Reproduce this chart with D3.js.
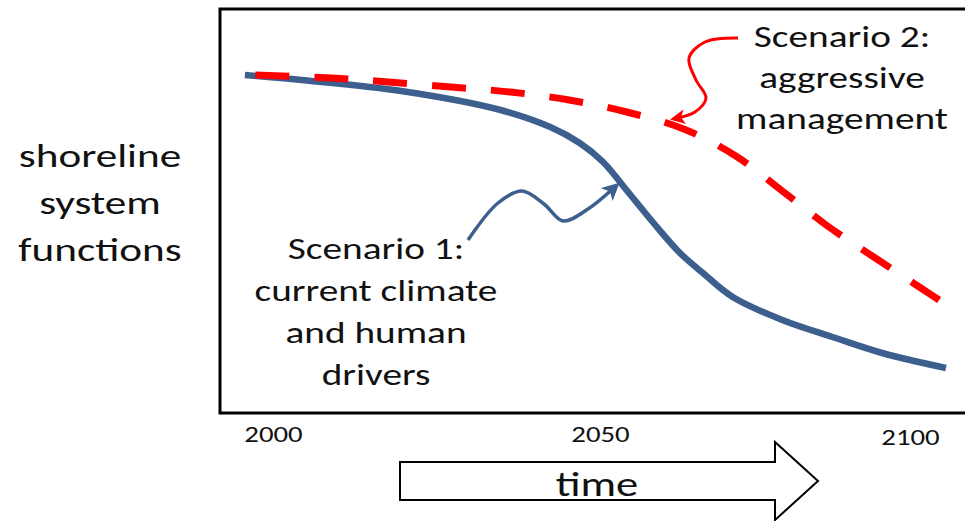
<!DOCTYPE html>
<html>
<head>
<meta charset="utf-8">
<script src="https://cdn.jsdelivr.net/npm/d3@7"></script>
<style>
  body { margin: 0; background: #fff; }
  text { font-family: Carlito, Calibri, Lato, sans-serif; fill: #111; }
</style>
</head>
<body>
<svg></svg>
<script>
//DATA (y is a unitless "function" level 0-100)
var scenario1Years  = [1995.7, 2004.4, 2019.6, 2034.8, 2042.4, 2046.9, 2050.5, 2054.0, 2058.5, 2062.9, 2066.6, 2071.4, 2079.4, 2087.5, 2095.5, 2105.8];
var scenario1Values = [83.75, 82.5, 79.75, 75, 70.75, 66.75, 62, 55.5, 47, 39.25, 34.25, 28.25, 22.5, 18.25, 14.25, 10.5];

var scenario2Years  = [1997.3, 2009.0, 2017.6, 2027.2, 2036.3, 2045.3, 2054.3, 2063.5, 2071.9, 2079.4, 2086.7, 2094.4, 2104.7];
var scenario2Values = [83.75, 83, 82, 80.75, 79.5, 77.5, 74.5, 70.25, 63.5, 54.75, 46, 38, 27.5];

var tickYears = [2000, 2050, 2100];
var yLabelLines = ["shoreline", "system", "functions"];
var label1Lines = ["Scenario 1:", "current climate", "and human", "drivers"];
var label2Lines = ["Scenario 2:", "aggressive", "management"];

//SET UP THE CANVAS
var w = 965;
var h = 521;
var stretch = "scale(1.31,1)"; // the original lettering is a wide sans

var svg = d3.select("svg")
     .attr("width", w)
     .attr("height", h)
     .style("background-color", "white");

//scales (the year labels are not evenly spaced in the original, so piecewise)
var xScale = d3.scaleLinear()
     .domain([2000, 2050, 2100])
     .range([273, 600, 910]);
var yScale = d3.scaleLinear()
     .domain([0, 100])
     .range([410, 10]);

//frame (right side runs off the page)
svg.append("rect")
     .attr("x", 220)
     .attr("y", 9)
     .attr("width", 780)
     .attr("height", 404)
     .attr("fill", "none")
     .attr("stroke", "black")
     .attr("stroke-width", 3);

//arrow heads
var defs = svg.append("defs");
defs.append("marker")
     .attr("id", "headBlue")
     .attr("viewBox", "0 0 10 10")
     .attr("refX", 8).attr("refY", 5)
     .attr("markerWidth", 5).attr("markerHeight", 5)
     .attr("markerUnits", "strokeWidth")
     .attr("orient", "auto")
     .append("path")
     .attr("d", "M0,0 L10,5 L0,10 L2.5,5 Z")
     .attr("fill", "#3c5f8e");
defs.append("marker")
     .attr("id", "headRed")
     .attr("viewBox", "0 0 10 10")
     .attr("refX", 8).attr("refY", 5)
     .attr("markerWidth", 5).attr("markerHeight", 5)
     .attr("markerUnits", "strokeWidth")
     .attr("orient", "auto")
     .append("path")
     .attr("d", "M0,0 L10,5 L0,10 L2.5,5 Z")
     .attr("fill", "red");

////DRAW THE LINES
var lineMaker = d3.line()
     .curve(d3.curveCatmullRom.alpha(0.5))
     .x(function (d) { return xScale(d[0]); })
     .y(function (d) { return yScale(d[1]); });

var scenario1 = d3.zip(scenario1Years, scenario1Values);
var scenario2 = d3.zip(scenario2Years, scenario2Values);

svg.append("path")
     .attr("d", lineMaker(scenario1))
     .attr("fill", "none")
     .attr("stroke", "#3c5f8e")
     .attr("stroke-width", 6.5);

svg.append("path")
     .attr("d", lineMaker(scenario2))
     .attr("fill", "none")
     .attr("stroke", "red")
     .attr("stroke-width", 7)
     .attr("stroke-dasharray", "34,25");

////X AXIS (labels only)
var xAxis = d3.axisBottom(xScale)
     .tickValues(tickYears)
     .tickSize(0)
     .tickPadding(13)
     .tickFormat(d3.format("d"));

var gx = svg.append("g")
     .attr("transform", "translate(0,413)")
     .call(xAxis);
gx.select(".domain").remove();
gx.selectAll("text")
     .attr("font-size", 22)
     .attr("fill", "#111")
     .attr("transform", function (d) { return d === 2100 ? "translate(0,3) " + stretch : stretch; })
     .style("font-family", "Carlito, Calibri, Lato, sans-serif");

////TIME ARROW
var arrowPts = [[400, 462], [775, 462], [775, 442], [818, 481], [775, 520], [775, 500], [400, 500]];
svg.append("path")
     .attr("d", d3.line()(arrowPts) + "Z")
     .attr("fill", "white")
     .attr("stroke", "black")
     .attr("stroke-width", 2);
svg.append("g")
     .attr("transform", "translate(597,496)")
     .append("text")
     .attr("transform", stretch)
     .attr("text-anchor", "middle")
     .attr("font-size", 34)
     .text("time");

////Y LABEL
svg.append("g")
     .selectAll("g")
     .data(yLabelLines)
     .join("g")
     .attr("transform", function (d, i) { return "translate(100," + (167 + i * 47) + ")"; })
     .append("text")
     .attr("transform", stretch)
     .attr("text-anchor", "middle")
     .attr("font-size", 33)
     .text(function (d) { return d; });

////ANNOTATIONS
svg.append("g")
     .selectAll("g")
     .data(label1Lines)
     .join("g")
     .attr("transform", function (d, i) { return "translate(376," + (259 + i * 42) + ")"; })
     .append("text")
     .attr("transform", stretch)
     .attr("text-anchor", "middle")
     .attr("font-size", 30)
     .text(function (d) { return d; });

svg.append("g")
     .selectAll("g")
     .data(label2Lines)
     .join("g")
     .attr("transform", function (d, i) { return "translate(842," + (47 + i * 41) + ")"; })
     .append("text")
     .attr("transform", stretch)
     .attr("text-anchor", "middle")
     .attr("font-size", 30)
     .text(function (d) { return d; });

//squiggly pointers
var squiggle = d3.line().curve(d3.curveCatmullRom.alpha(0.5));

svg.append("path")
     .attr("d", squiggle([[468, 240], [498, 203], [522, 191], [544, 204], [563, 221], [588, 209], [617, 185]]))
     .attr("fill", "none")
     .attr("stroke", "#3c5f8e")
     .attr("stroke-width", 3.5)
     .attr("marker-end", "url(#headBlue)");

svg.append("path")
     .attr("d", squiggle([[738, 38], [705, 42], [689, 58], [696, 80], [706, 98], [695, 112], [673, 119]]))
     .attr("fill", "none")
     .attr("stroke", "red")
     .attr("stroke-width", 3)
     .attr("marker-end", "url(#headRed)");
</script>
</body>
</html>
